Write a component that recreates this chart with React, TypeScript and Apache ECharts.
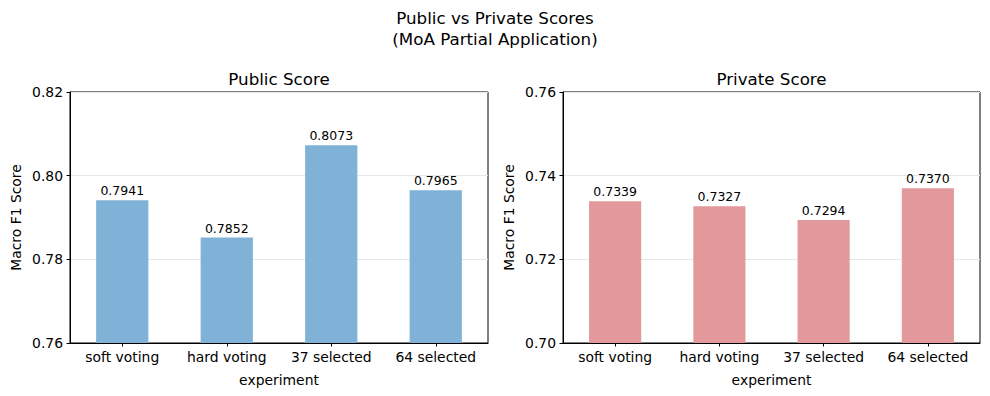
import React, { useEffect, useRef } from "react";
import * as echarts from "echarts";

const categories = ["soft voting", "hard voting", "37 selected", "64 selected"];
const publicScores = [0.7941, 0.7852, 0.8073, 0.7965];
const privateScores = [0.7339, 0.7327, 0.7294, 0.737];
const publicTicks = { min: 0.76, max: 0.82, interval: 0.02 };
const privateTicks = { min: 0.7, max: 0.76, interval: 0.02 };

const FONT = "DejaVu Sans";

export default function App() {
  const ref = useRef<HTMLDivElement>(null);
  useEffect(() => {
    if (!ref.current) return;
    const chart = echarts.init(ref.current, null, { renderer: "svg" });
    const grids = [
      { left: 70, right: 502, top: 92, bottom: 53 },
      { left: 563, right: 10, top: 92, bottom: 53 },
    ];
    const ticks = [publicTicks, privateTicks];
    const xAxis = grids.map((_, i) => ({
      type: "category",
      gridIndex: i,
      data: categories,
      name: "experiment",
      nameLocation: "middle",
      nameGap: 30,
      nameTextStyle: { fontFamily: FONT, fontSize: 13.9, color: "#000" },
      axisLine: { show: true, lineStyle: { color: "#000", width: 1 } },
      axisTick: { show: true, alignWithLabel: true, interval: 0, length: 3.5, lineStyle: { color: "#000" } },
      axisLabel: { fontFamily: FONT, fontSize: 13.9, color: "#000", margin: 7, interval: 0 },
      splitLine: { show: false },
    }));
    const yAxis = grids.map((_, i) => ({
      type: "value",
      gridIndex: i,
      min: ticks[i].min,
      max: ticks[i].max,
      interval: ticks[i].interval,
      name: "Macro F1 Score",
      nameLocation: "middle",
      nameRotate: 90,
      nameGap: 47,
      nameTextStyle: { fontFamily: FONT, fontSize: 13.9, color: "#000" },
      axisLine: { show: true, lineStyle: { color: "#000", width: 1 } },
      axisTick: { show: true, length: 3.5, lineStyle: { color: "#000" } },
      axisLabel: {
        fontFamily: FONT,
        fontSize: 13.9,
        color: "#000",
        margin: 7,
        formatter: (v: number) => v.toFixed(2),
      },
      splitLine: { show: true, lineStyle: { color: "#e6e6e6", width: 1 } },
    }));
    const mkSeries = (data: number[], i: number, color: string) => ({
      type: "bar",
      xAxisIndex: i,
      yAxisIndex: i,
      data,
      barWidth: "50%",
      itemStyle: { color },
      label: {
        show: true,
        position: "top",
        distance: 3,
        fontFamily: FONT,
        fontSize: 12.5,
        color: "#000",
        formatter: (p: any) => Number(p.value).toFixed(4),
      },
    });
    chart.setOption({
      animation: false,
      backgroundColor: "#fff",
      grid: grids.map((g) => ({ ...g, show: true, borderColor: "#000", borderWidth: 1, backgroundColor: "transparent" })),
      xAxis,
      yAxis,
      series: [mkSeries(publicScores, 0, "#7fb2d6"), mkSeries(privateScores, 1, "#e3989b")],
      graphic: [
        {
          type: "text",
          x: 495,
          y: 18,
          style: { text: "Public vs Private Scores", font: `16.7px ${FONT}`, fill: "#000", textAlign: "center", textVerticalAlign: "middle" },
        },
        {
          type: "text",
          x: 495,
          y: 39,
          style: { text: "(MoA Partial Application)", font: `16.7px ${FONT}`, fill: "#000", textAlign: "center", textVerticalAlign: "middle" },
        },
        {
          type: "text",
          x: 279,
          y: 79,
          style: { text: "Public Score", font: `16.7px ${FONT}`, fill: "#000", textAlign: "center", textVerticalAlign: "middle" },
        },
        {
          type: "text",
          x: 771.5,
          y: 79,
          style: { text: "Private Score", font: `16.7px ${FONT}`, fill: "#000", textAlign: "center", textVerticalAlign: "middle" },
        },
      ],
    });
    return () => chart.dispose();
  }, []);
  return <div ref={ref} style={{ width: 990, height: 396, position: "absolute", left: 0, top: 0 }} />;
}
